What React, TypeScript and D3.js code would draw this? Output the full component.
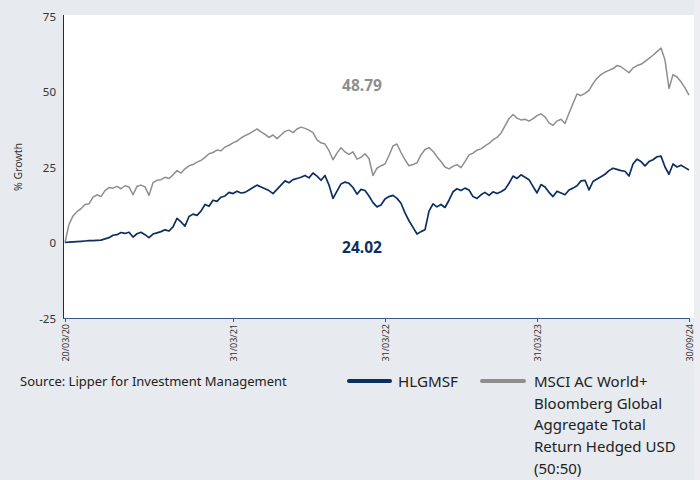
import React from "react";
import * as d3 from "d3";

const fundName = "HLGMSF";
const benchName = ["MSCI AC World+", "Bloomberg Global", "Aggregate Total", "Return Hedged USD", "(50:50)"];
const sourceText = "Source: Lipper for Investment Management";
const yAxisLabel = "% Growth";

const yTicks = [-25, 0, 25, 50, 75];
const xTickIndex = [0, 42, 80, 118, 156];
const xTickLabels = ["20/03/20", "31/03/21", "31/03/22", "31/03/23", "30/09/24"];

const fundValues = [
  0, 0.1, 0.2, 0.3, 0.4, 0.5, 0.6, 0.6, 0.7, 0.8,
  1.2, 1.6, 2.4, 2.6, 3.3, 3.0, 3.4, 1.8, 2.9, 3.4,
  2.6, 1.6, 2.8, 3.2, 3.6, 4.2, 3.8, 5.2, 8.0, 6.8,
  5.4, 8.6, 9.4, 9.0, 10.4, 12.6, 12.0, 14.0, 13.6, 15.0,
  15.4, 16.6, 16.2, 17.0, 16.4, 16.6, 17.4, 18.2, 19.0, 18.4,
  17.8, 17.2, 16.2, 17.6, 19.0, 20.4, 19.8, 20.8, 21.2, 21.6,
  22.2, 21.4, 23.0, 22.0, 20.6, 22.2, 19.0, 14.6, 17.0, 19.4,
  20.0, 19.6, 18.2, 16.0, 17.6, 17.2, 15.4, 13.2, 11.8, 12.4,
  14.4, 15.2, 15.6, 14.6, 13.0, 9.8, 7.2, 5.0, 2.8, 3.6,
  4.2, 10.4, 12.8, 11.8, 12.6, 11.6, 14.0, 16.8, 17.8, 17.2,
  18.0, 17.4, 15.2, 14.6, 15.8, 16.6, 15.6, 16.8, 16.2, 16.8,
  17.6, 19.6, 22.0, 21.2, 22.4, 21.6, 20.8, 18.6, 16.4, 19.2,
  18.4, 16.6, 15.2, 17.0, 16.4, 15.8, 17.4, 18.0, 18.8, 20.4,
  20.6, 17.4, 20.2, 21.0, 21.8, 22.6, 23.8, 24.6, 24.2, 23.8,
  23.6, 22.0, 26.0, 27.6, 26.8, 25.4, 26.8, 27.4, 28.4, 28.6,
  25.0, 22.6, 26.0, 25.0, 25.6, 24.8, 24.02,
];

const benchValues = [
  0, 6.0, 8.8, 10.2, 11.2, 12.6, 12.8, 15.0, 15.8, 15.2,
  17.2, 18.2, 18.0, 18.6, 17.8, 18.8, 18.4, 15.8, 18.6, 19.0,
  18.4, 15.6, 19.8, 20.6, 20.8, 21.6, 21.2, 22.4, 23.8, 23.0,
  24.4, 25.4, 25.8, 26.6, 27.2, 28.2, 29.4, 29.8, 30.6, 30.4,
  31.6, 32.2, 33.0, 33.6, 34.6, 35.4, 36.0, 36.8, 37.6, 36.6,
  35.8, 34.8, 35.6, 34.4, 35.6, 36.8, 37.2, 36.4, 37.6, 38.2,
  37.8, 37.2, 36.4, 34.0, 33.0, 32.6, 30.4, 27.4, 29.6, 31.4,
  30.0, 29.2, 30.0, 27.6, 28.2, 29.4, 27.8, 22.2, 24.6, 25.4,
  26.0, 28.8, 32.0, 32.6, 29.8, 27.4, 25.4, 25.8, 26.4, 29.0,
  30.8, 31.4, 30.2, 28.4, 26.8, 25.0, 24.4, 25.2, 25.8, 24.8,
  26.8, 29.0, 29.6, 30.6, 31.0, 32.0, 32.8, 34.0, 34.8, 36.2,
  38.6, 41.0, 42.4, 41.2, 40.6, 40.8, 40.2, 41.0, 42.0, 42.6,
  41.6, 39.6, 38.8, 40.2, 40.8, 39.4, 42.8, 46.0, 49.2, 48.6,
  49.4, 50.4, 52.6, 54.4, 55.6, 56.4, 57.0, 57.6, 58.6, 58.2,
  57.2, 56.2, 57.8, 58.6, 59.0, 60.0, 61.0, 62.0, 63.2, 64.4,
  60.4, 51.0, 55.6, 54.8, 53.2, 51.2, 48.79,
];

const fundEndLabel = "24.02";
const benchEndLabel = "48.79";

const NAVY = "#0c2f62";
const GREY = "#8e8e8e";
const BG = "#e7eaee";
const FONT = "'Noto Sans', 'Open Sans', sans-serif";

export default function App() {
  const W = 700;
  const H = 480;
  const plot = { left: 64, right: 694, top: 15, bottom: 318 };
  const x = d3.scaleLinear().domain([0, fundValues.length - 1]).range([65, 689]);
  const y = d3.scaleLinear().domain([-25, 75]).range([318, 16]);
  const line = d3
    .line<number>()
    .x((_, i) => x(i))
    .y((d) => y(d))
    .curve(d3.curveLinear);

  return (
    <svg
      width={W}
      height={H}
      style={{ position: "absolute", left: 0, top: 0, display: "block" }}
      fontFamily={FONT}
    >
      <rect x={0} y={0} width={W} height={H} fill={BG} />
      <rect x={694} y={0} width={6} height={H} fill="#eceef2" />
      <rect
        x={plot.left}
        y={plot.top}
        width={plot.right - plot.left}
        height={plot.bottom - plot.top}
        fill="#ffffff"
      />
      {/* y axis */}
      <line x1={63.5} x2={63.5} y1={plot.top} y2={plot.bottom} stroke={NAVY} strokeWidth={1} />
      {yTicks.map((t) => (
        <g key={t}>
          <text
            x={56}
            y={y(t)}
            textAnchor="end"
            dominantBaseline="central"
            fontSize={11.5}
            fill="#333"
          >
            {t}
          </text>
        </g>
      ))}
      <text
        transform={`translate(18,167) rotate(-90)`}
        textAnchor="middle"
        dominantBaseline="central"
        fontSize={10.5}
        fill="#333"
      >
        {yAxisLabel}
      </text>
      {/* x axis */}
      <line x1={63} x2={690} y1={318.5} y2={318.5} stroke="#3a5a8c" strokeWidth={1} />
      {xTickIndex.map((idx, k) => (
        <g key={idx} transform={`translate(${Math.round(x(idx)) + 0.5},318)`}>
          <line y1={0} y2={4} stroke="#3a5a8c" strokeWidth={1} />
          <text
            transform="translate(0,6) rotate(-90)"
            textAnchor="end"
            dominantBaseline="central"
            fontSize={9}
            fill="#333"
          >
            {xTickLabels[k]}
          </text>
        </g>
      ))}
      {/* lines */}
      <path d={line(benchValues) || ""} fill="none" stroke={GREY} strokeWidth={1.5} strokeLinejoin="round" />
      <path d={line(fundValues) || ""} fill="none" stroke={NAVY} strokeWidth={1.7} strokeLinejoin="round" />
      {/* end labels */}
      <text x={362} y={85} textAnchor="middle" dominantBaseline="central" fontSize={15.5} fontWeight="bold" fill={GREY}>
        {benchEndLabel}
      </text>
      <text x={362} y={247} textAnchor="middle" dominantBaseline="central" fontSize={15.5} fontWeight="bold" fill={NAVY}>
        {fundEndLabel}
      </text>
      {/* footer */}
      <text x={20} y={381} dominantBaseline="central" fontSize={13} fill="#222">
        {sourceText}
      </text>
      <line x1={349} x2={390} y1={381} y2={381} stroke={NAVY} strokeWidth={4} strokeLinecap="round" />
      <text x={398} y={381} dominantBaseline="central" fontSize={15} textLength={60} lengthAdjust="spacingAndGlyphs" fill="#222">
        {fundName}
      </text>
      <line x1={482} x2={524} y1={381} y2={381} stroke={GREY} strokeWidth={4} strokeLinecap="round" />
      {benchName.map((s, i) => (
        <text key={i} x={534} y={381 + i * 21.7} dominantBaseline="central" fontSize={15} fill="#222">
          {s}
        </text>
      ))}
    </svg>
  );
}
